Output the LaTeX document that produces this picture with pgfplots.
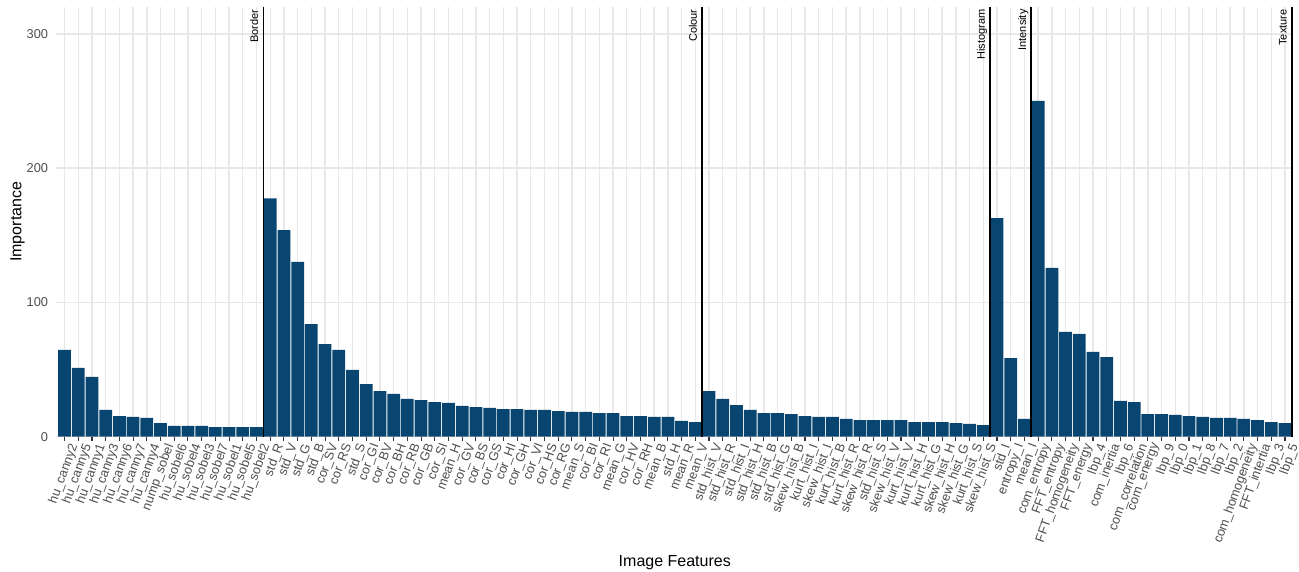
\documentclass[border=0pt]{standalone}
\usepackage{fontspec}
\setmainfont{Liberation Sans}
\usepackage{pgfplots}
\pgfplotsset{compat=1.18}
\definecolor{barblue}{RGB}{9,69,113}
\definecolor{gridgrey}{RGB}{232,232,232}
\definecolor{ticktext}{RGB}{77,77,77}
\definecolor{tickmark}{RGB}{51,51,51}
\begin{document}
\begin{tikzpicture}
\begin{axis}[
  scale only axis,
  width=1236.9pt, height=429.7pt,
  xmin=-0.6, xmax=89.6, ymin=0, ymax=320,
  clip=false,
  axis line style={draw=none},
  xtick={0,...,89},
  ytick={0,100,200,300},
  xmajorgrids, ymajorgrids,
  major grid style={color=gridgrey, line width=1.4pt},
  tick align=outside,
  xtick pos=lower,
  major tick length=4pt,
  xtick style={draw=tickmark, line width=1.1pt},
  ytick style={draw=none},
  /pgf/number format/assume math mode=true,
  yticklabel style={font=\fontsize{12.8}{14}\selectfont, text=ticktext, anchor=east, inner sep=0pt, xshift=-4pt},
  xticklabel style={font=\fontsize{12.8}{14}\selectfont, text=ticktext, rotate=70, anchor=north east, inner sep=0pt, yshift=-4.5pt},
  xticklabels={hu\_canny2,hu\_canny5,hu\_canny1,hu\_canny3,hu\_canny6,hu\_canny7,hu\_canny4,nump\_sobel,hu\_sobel6,hu\_sobel4,hu\_sobel3,hu\_sobel7,hu\_sobel1,hu\_sobel5,hu\_sobel2,
    std\_R,std\_V,std\_G,std\_B,cor\_SV,cor\_RS,std\_S,cor\_GI,cor\_BV,cor\_BH,cor\_RB,cor\_GB,cor\_SI,mean\_H,cor\_GV,cor\_BS,cor\_GS,cor\_HI,cor\_GH,cor\_VI,cor\_HS,cor\_RG,mean\_S,cor\_BI,cor\_RI,mean\_G,cor\_HV,cor\_RH,mean\_B,std\_H,mean\_R,mean\_V,
    std\_hist\_V,std\_hist\_R,std\_hist\_I,std\_hist\_H,std\_hist\_B,std\_hist\_G,skew\_hist\_B,kurt\_hist\_I,skew\_hist\_I,kurt\_hist\_B,kurt\_hist\_R,skew\_hist\_R,std\_hist\_S,skew\_hist\_V,kurt\_hist\_V,kurt\_hist\_H,kurt\_hist\_G,skew\_hist\_H,skew\_hist\_G,kurt\_hist\_S,skew\_hist\_S,
    std\_I,entropy\_I,mean\_I,
    com\_entropy,FFT\_entropy,FFT\_homogeneity,FFT\_energy,lbp\_4,com\_inertia,lbp\_6,com\_correlation,com\_energy,lbp\_9,lbp\_0,lbp\_1,lbp\_8,lbp\_7,lbp\_2,com\_homogeneity,FFT\_intertia,lbp\_3,lbp\_5},
  xlabel={Image Features},
  ylabel={Importance},
  every axis x label/.style={at={(axis description cs:0.5,-0.3025)}, anchor=base, font=\fontsize{16}{18}\selectfont},
  every axis y label/.style={at={(axis description cs:-0.02813,0.5)}, rotate=90, anchor=base, font=\fontsize{16}{18}\selectfont},
]
\addplot[ybar, bar width=0.93, fill=barblue, draw=none] coordinates {
(0,64.6) (1,51.2) (2,44.5) (3,19.9) (4,15.4) (5,14.7) (6,14.0) (7,10.2) (8,8.0) (9,8.0) (10,8.0) (11,7.2) (12,7.2) (13,7.2) (14,7.2)
(15,177.5) (16,153.9) (17,130.1) (18,83.9) (19,69.0) (20,64.6) (21,49.7) (22,39.2) (23,34.0) (24,31.8) (25,28.1) (26,27.3) (27,25.8) (28,25.1) (29,22.9) (30,22.1) (31,21.4) (32,20.6) (33,20.6) (34,19.9) (35,19.9) (36,19.1) (37,18.4) (38,18.4) (39,17.6) (40,17.6) (41,15.4) (42,15.4) (43,14.7) (44,14.7) (45,11.7) (46,10.9)
(47,34.0) (48,28.1) (49,23.6) (50,19.9) (51,17.6) (52,17.6) (53,16.9) (54,15.4) (55,14.7) (56,14.7) (57,13.2) (58,12.4) (59,12.4) (60,12.4) (61,12.4) (62,10.9) (63,10.9) (64,10.9) (65,10.2) (66,9.5) (67,8.7)
(68,162.8) (69,58.6) (70,13.2)
(71,250.0) (72,125.8) (73,78.0) (74,76.5) (75,63.1) (76,59.3) (77,26.6) (78,25.8) (79,16.9) (80,16.9) (81,16.2) (82,15.4) (83,14.7) (84,14.0) (85,14.0) (86,13.2) (87,12.4) (88,10.9) (89,10.2)
};
\foreach \xv/\lab in {14.5/Border, 46.5/Colour, 67.5/Histogram, 70.5/Intensity, 89.5/Texture} {
  \edef\temp{\noexpand\draw[black, line width=1.7pt] (axis cs:\xv,0) -- (axis cs:\xv,320);
    \noexpand\node[rotate=90, anchor=base east, inner sep=0pt, font=\noexpand\fontsize{11}{12}\noexpand\selectfont] at ([xshift=-5.3pt,yshift=-2.3pt]axis cs:\xv,320) {\lab};}
  \temp
}
\end{axis}
\pgfresetboundingbox
\path[use as bounding box] (-56.3pt,-135.3pt) rectangle (1242.7pt,436.7pt);
\end{tikzpicture}
\end{document}
